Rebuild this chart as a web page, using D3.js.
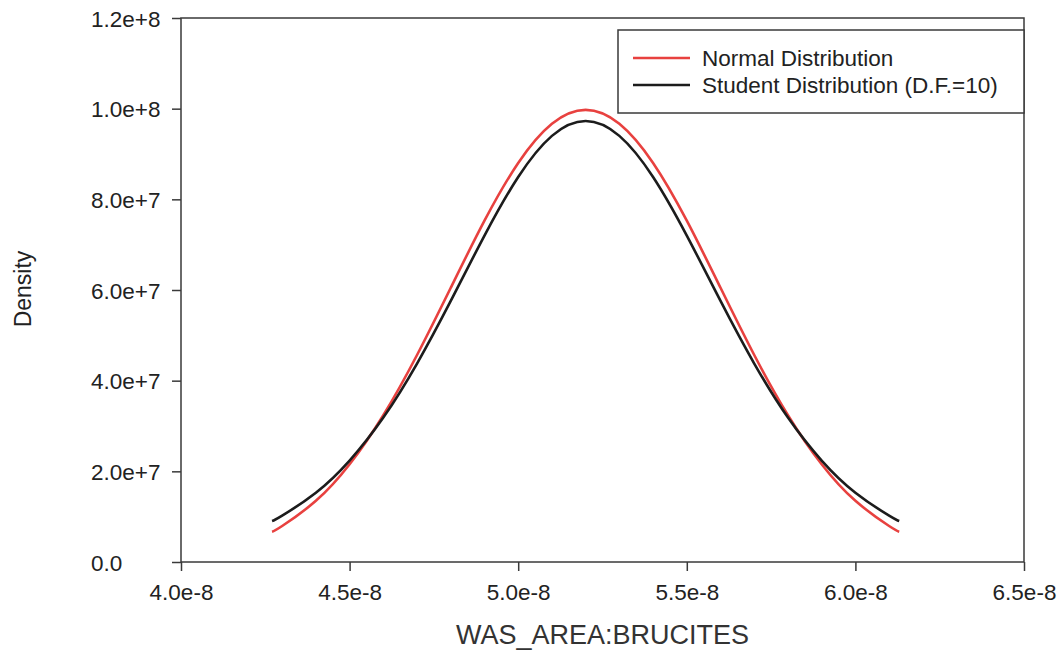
<!DOCTYPE html>
<html>
<head>
<meta charset="utf-8">
<script src="https://cdn.jsdelivr.net/npm/d3@7"></script>
<style>
  body { margin: 0; background: #fff; }
  svg { display: block; font-family: "Liberation Sans", Arial, sans-serif; }
</style>
</head>
<body>
<div id="chart"></div>
<script>
// values
const xValues = [4.27e-8, 4.3e-8, 4.4e-8, 4.5e-8, 4.6e-8, 4.7e-8, 4.8e-8, 4.9e-8, 5.0e-8, 5.1e-8,
  5.2e-8, 5.3e-8, 5.4e-8, 5.5e-8, 5.6e-8, 5.7e-8, 5.8e-8, 5.9e-8, 6.0e-8, 6.1e-8, 6.13e-8];
const normalDensity = [6.69e6, 7.94e6, 1.350e7, 2.157e7, 3.238e7, 4.566e7, 6.049e7, 7.529e7, 8.802e7, 9.667e7,
  9.974e7, 9.667e7, 8.802e7, 7.529e7, 6.049e7, 4.566e7, 3.238e7, 2.157e7, 1.350e7, 7.94e6, 6.69e6];
const studentDensity = [9.03e6, 1.023e7, 1.529e7, 2.238e7, 3.186e7, 4.378e7, 5.759e7, 7.200e7, 8.493e7, 9.400e7,
  9.728e7, 9.400e7, 8.493e7, 7.200e7, 5.759e7, 4.378e7, 3.186e7, 2.238e7, 1.529e7, 1.023e7, 9.03e6];

const seriesNames = ["Normal Distribution", "Student Distribution (D.F.=10)"];
const seriesColors = ["#e8413f", "#1c1c1c"];

const xTicks = [4.0e-8, 4.5e-8, 5.0e-8, 5.5e-8, 6.0e-8, 6.5e-8];
const xTickLabels = ["4.0e-8", "4.5e-8", "5.0e-8", "5.5e-8", "6.0e-8", "6.5e-8"];
const yTicks = [0, 2e7, 4e7, 6e7, 8e7, 1.0e8, 1.2e8];
const yTickLabels = ["0.0", "2.0e+7", "4.0e+7", "6.0e+7", "8.0e+7", "1.0e+8", "1.2e+8"];

const width = 1057, height = 654;
const margin = {left: 181, right: 33, top: 18, bottom: 92};

const x = d3.scaleLinear().domain([4.0e-8, 6.5e-8]).range([margin.left, width - margin.right]);
const y = d3.scaleLinear().domain([0, 1.2e8]).range([height - margin.bottom, margin.top]);

const svg = d3.select("#chart").append("svg")
    .attr("width", width)
    .attr("height", height);

const axisColor = "#3a3a3a";

// frame
svg.append("rect")
    .attr("x", x(4.0e-8)).attr("y", y(1.2e8))
    .attr("width", x(6.5e-8) - x(4.0e-8))
    .attr("height", y(0) - y(1.2e8))
    .attr("fill", "none")
    .attr("stroke", axisColor)
    .attr("stroke-width", 1.5);

// y axis
const yAxis = svg.append("g")
    .attr("transform", `translate(${x(4.0e-8)},0)`)
    .call(d3.axisLeft(y).tickValues(yTicks).tickSize(9).tickFormat((d, i) => yTickLabels[i]));
yAxis.select(".domain").remove();
yAxis.selectAll("line").attr("stroke", axisColor).attr("stroke-width", 1.5);
yAxis.selectAll("text")
    .attr("font-size", 22.5)
    .attr("fill", "#222")
    .attr("text-anchor", "start")
    .attr("x", -90)
    .attr("dy", "0.36em");

// x axis
const xAxis = svg.append("g")
    .attr("transform", `translate(0,${y(0)})`)
    .call(d3.axisBottom(x).tickValues(xTicks).tickSize(9).tickFormat((d, i) => xTickLabels[i]));
xAxis.select(".domain").remove();
xAxis.selectAll("line").attr("stroke", axisColor).attr("stroke-width", 1.5);
xAxis.selectAll("text")
    .attr("font-size", 22.5)
    .attr("fill", "#222")
    .attr("y", 22)
    .attr("dy", "0.71em");

// axis titles
svg.append("text")
    .attr("x", (x(4.0e-8) + x(6.5e-8)) / 2)
    .attr("y", 644)
    .attr("text-anchor", "middle")
    .attr("font-size", 27)
    .attr("fill", "#333")
    .text("WAS_AREA:BRUCITES");

svg.append("text")
    .attr("transform", "translate(31,289) rotate(-90)")
    .attr("text-anchor", "middle")
    .attr("font-size", 23)
    .attr("fill", "#222")
    .text("Density");

// curves
const series = [normalDensity, studentDensity];
const line = d3.line()
    .x(d => x(d[0]))
    .y(d => y(d[1]))
    .curve(d3.curveNatural);

svg.append("g")
  .selectAll("path")
  .data(series)
  .join("path")
    .attr("d", s => line(xValues.map((v, i) => [v, s[i]])))
    .attr("fill", "none")
    .attr("stroke", (s, i) => seriesColors[i])
    .attr("stroke-width", 2.6);

// legend
const legend = svg.append("g");
legend.append("rect")
    .attr("x", 618).attr("y", 30)
    .attr("width", x(6.5e-8) - 618).attr("height", 83)
    .attr("fill", "#fff")
    .attr("stroke", axisColor)
    .attr("stroke-width", 1.5);

const items = legend.selectAll("g.item")
  .data(seriesNames)
  .join("g")
    .attr("class", "item")
    .attr("transform", (d, i) => `translate(0,${58 + i * 27})`);
items.append("line")
    .attr("x1", 633).attr("x2", 690)
    .attr("stroke", (d, i) => seriesColors[i])
    .attr("stroke-width", 2.6);
items.append("text")
    .attr("x", 702)
    .attr("dy", "0.36em")
    .attr("font-size", 22.5)
    .attr("fill", "#222")
    .text(d => d);
</script>
</body>
</html>
